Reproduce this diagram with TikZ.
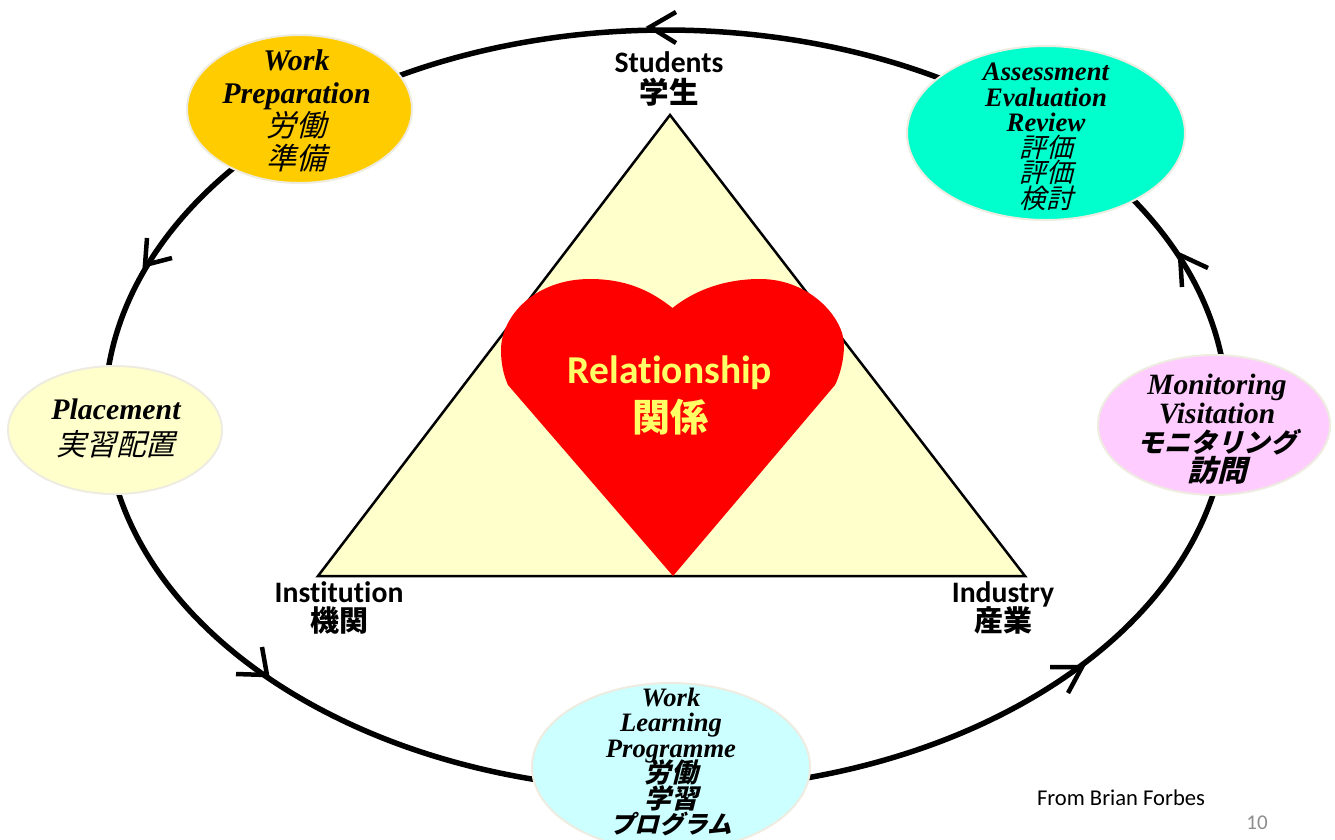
\documentclass[tikz,border=0pt]{standalone}
\usepackage{fontspec}
\usetikzlibrary{calc,shapes.geometric}
\setmainfont{Liberation Serif}
\newfontfamily\labfont[Ligatures=NoCommon]{Carlito}
\newfontfamily\cjkit[FakeSlant=0.25]{Noto Sans CJK JP}
\newfontfamily\cjkup{Noto Sans CJK JP}
\newcommand{\fs}[2]{\fontsize{#1}{#2}\selectfont\lineskiplimit=-100pt }
\definecolor{paleedge}{HTML}{EEECE1}
\definecolor{triyellow}{HTML}{FFFFCC}
\definecolor{heartyellow}{HTML}{FFFF66}
\tikzset{
  x=1pt,y=-1pt,
  ringline/.style={line width=5.5pt,black},
  barb/.style={line width=4.5pt,black,miter limit=2},
  bubble/.style={ellipse,draw=paleedge,line width=2pt,inner sep=0pt},
  bubbletext/.style={align=center,inner sep=0pt},
  vertexlabel/.style={align=center,inner sep=0pt},
}
\begin{document}
\begin{tikzpicture}
\useasboundingbox (0,0) rectangle (1335,839);
\coordinate (ringc) at (666,410);
\coordinate (rWL) at ($(ringc)+(89.6:561 and 380)$);
\coordinate (rMO) at ($(ringc)+(2.3:561 and 380)$);
\coordinate (rAS) at ($(ringc)+(-47.1:561 and 380)$);
\coordinate (rWP) at ($(ringc)+(-129.7:561 and 380)$);
\coordinate (rPL) at ($(ringc)+(-183.1:561 and 380)$);
\draw[ringline] (rWL) arc[start angle=89.6,end angle=2.3,x radius=561,y radius=380];
\draw[ringline] (rMO) arc[start angle=2.3,end angle=-47.1,x radius=561,y radius=380];
\draw[ringline] (rAS) arc[start angle=-47.1,end angle=-129.7,x radius=561,y radius=380];
\draw[ringline] (rWP) arc[start angle=-129.7,end angle=-183.1,x radius=561,y radius=380];
\draw[ringline] (rPL) arc[start angle=-183.1,end angle=-270.4,x radius=561,y radius=380];
% chevrons
\coordinate (t1) at (650,27); \coordinate (t1a) at (676,12); \coordinate (t1b) at (676,43);
\coordinate (t2) at (145,265); \coordinate (t2a) at (147,238); \coordinate (t2b) at (172,258);
\coordinate (t3) at (267,675); \coordinate (t3a) at (262,647); \coordinate (t3b) at (236,674);
\coordinate (t4) at (1082,667); \coordinate (t4a) at (1050,667); \coordinate (t4b) at (1068,693);
\coordinate (t5) at (1180,255); \coordinate (t5a) at (1182,287); \coordinate (t5b) at (1208,268);
\draw[barb] (t1a) -- (t1) -- (t1b);
\draw[barb] (t2a) -- (t2) -- (t2b);
\draw[barb] (t3a) -- (t3) -- (t3b);
\draw[barb] (t4a) -- (t4) -- (t4b);
\draw[barb] (t5a) -- (t5) -- (t5b);
% triangle
\coordinate (apex) at (670,115); \coordinate (bl) at (318,576); \coordinate (br) at (1025,576);
\draw[fill=triyellow,line width=2.5pt,line join=miter] (apex) -- (br) -- (bl) -- cycle;
% heart
\fill[red] (673,576) -- (508,385)
  .. controls (504,376) and (501,365) .. (501,350)
  .. controls (501,316) and (535,279) .. (590,279)
  .. controls (625,279) and (650,290) .. (672.5,308)
  .. controls (695,290) and (725,279) .. (760,279)
  .. controls (810,279) and (844,318) .. (844,345)
  .. controls (844,360) and (840,375) .. (835,385) -- cycle;
\node[font=\labfont\bfseries\fs{39.5}{48},text=heartyellow,align=center,inner sep=0pt] (rel) at (670,395) {Relationship\\{\cjkup\fontsize{38}{48}\selectfont 関係}};
% bubbles
\node[bubble,fill={rgb,255:red,255;green,204;blue,0},minimum width=225pt,minimum height=148pt] (wp) at (299.5,109) {};
\node[bubble,fill={rgb,255:red,0;green,255;blue,204},minimum width=278pt,minimum height=174pt] (as) at (1046,133) {};
\node[bubble,fill={rgb,255:red,255;green,204;blue,255},minimum width=232pt,minimum height=140pt] (mo) at (1214,425) {};
\node[bubble,fill=triyellow,minimum width=214pt,minimum height=128pt] (pl) at (115,430) {};
\node[bubble,fill={rgb,255:red,204;green,255;blue,255},minimum width=278pt,minimum height=168pt] (wl) at (671,767) {};
\node[bubbletext,font=\bfseries\itshape\fs{30}{33}] (wpt) at (296.5,111) {Work\\Preparation\\{\cjkit\mdseries 労働}\\{\cjkit\mdseries 準備}};
\node[bubbletext,font=\bfseries\itshape\fs{26.7}{25.5}] (ast) at (1046,137) {Assessment\\Evaluation\\Review\\{\cjkit\mdseries 評価}\\{\cjkit\mdseries 評価}\\{\cjkit\mdseries 検討}};
\node[bubbletext,font=\bfseries\itshape\fs{29.5}{29}] (mot) at (1217,429) {Monitoring\\Visitation\\{\cjkit\fontsize{26.5}{29}\selectfont モニタリング}\\{\cjkit 訪問}};
\node[bubbletext,font=\bfseries\itshape\fs{29.8}{36}] (plt) at (116,428) {Placement\\{\cjkit\mdseries 実習配置}};
\node[bubbletext,font=\bfseries\itshape\fs{26.6}{25.5}] (wlt) at (671,762) {Work\\Learning\\Programme\\{\cjkit 労働}\\{\cjkit 学習}\\{\cjkit\fontsize{24.5}{25.5}\selectfont プログラム}};
% vertex labels
\node[vertexlabel,font=\labfont\bfseries\fs{29.7}{31}] (stu) at (669,78.5) {Students\\{\cjkup\fontsize{29.5}{31}\selectfont 学生}};
\node[vertexlabel,font=\labfont\bfseries\fs{29.7}{29}] (ins) at (339,608) {Institution\\{\cjkup\fontsize{29}{29}\selectfont 機関}};
\node[vertexlabel,font=\labfont\bfseries\fs{29.7}{29}] (ind) at (1003,608) {Industry\\{\cjkup\fontsize{29}{29}\selectfont 産業}};
\node[font=\labfont\fs{22.6}{25},inner sep=0pt] (credit) at (1121,798) {From Brian Forbes};
\node[font=\labfont\fs{21}{25},text={rgb,255:red,140;green,140;blue,140},inner sep=0pt] (pageno) at (1257,823) {10};
\end{tikzpicture}
\end{document}
